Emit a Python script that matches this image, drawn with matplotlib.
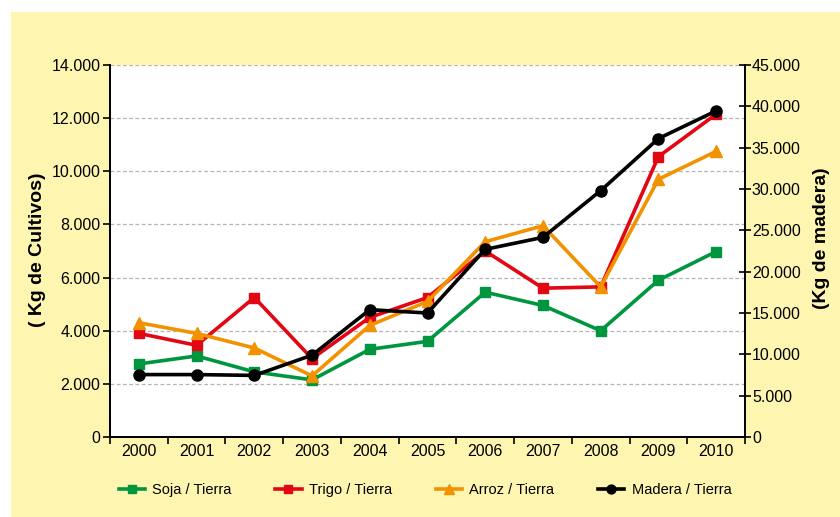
import matplotlib.pyplot as plt
from matplotlib.ticker import FuncFormatter, FixedLocator
from matplotlib.patches import Rectangle

# Data
years = ['2000', '2001', '2002', '2003', '2004', '2005',
         '2006', '2007', '2008', '2009', '2010']
soja = [2750, 3050, 2450, 2150, 3300, 3600, 5450, 4950, 4000, 5900, 6980]
trigo = [3900, 3450, 5250, 2950, 4500, 5250, 7000, 5600, 5650, 10550, 12150]
arroz = [4300, 3900, 3350, 2300, 4200, 5100, 7350, 7950, 5650, 9700, 10750]
madera = [7550, 7550, 7450, 9900, 15400, 15000, 22700, 24150, 29800, 36100, 39450]

plt.rcParams['font.family'] = ['Liberation Sans', 'DejaVu Sans']

yellow = '#FEF5B0'
green = '#00963F'
red = '#E30613'
orange = '#F39200'

fig = plt.figure(figsize=(8.4, 5.17), dpi=100)
fig.patch.set_facecolor('white')
bg = Rectangle((11/840, 0), 1, (517-12)/517, transform=fig.transFigure,
               facecolor=yellow, edgecolor='none', zorder=-10)
fig.add_artist(bg)

ax = fig.add_axes([110/840, 80/517, 635/840, 372/517])
ax.set_facecolor('white')
ax2 = ax.twinx()

x = list(range(len(years)))
lw = 2.6
l1, = ax.plot(x, soja, color=green, lw=lw, marker='s', ms=7, label='Soja / Tierra')
l2, = ax.plot(x, trigo, color=red, lw=lw, marker='s', ms=7, label='Trigo / Tierra')
l3, = ax.plot(x, arroz, color=orange, lw=lw, marker='^', ms=9, label='Arroz / Tierra')
l4, = ax2.plot(x, madera, color='black', lw=lw, marker='o', ms=8, label='Madera / Tierra')

ax.set_xlim(-0.5, 10.5)
ax.set_ylim(0, 14000)
ax2.set_ylim(0, 45000)
ax.set_yticks(range(0, 14001, 2000))
ax2.set_yticks(range(0, 45001, 5000))

fmt = FuncFormatter(lambda v, p: f'{int(v):,}'.replace(',', '.'))
ax.yaxis.set_major_formatter(fmt)
ax2.yaxis.set_major_formatter(fmt)

ax.set_xticks(x)
ax.set_xticklabels(years)
ax.xaxis.set_minor_locator(FixedLocator([i - 0.5 for i in range(len(years) + 1)]))
ax.tick_params(axis='x', which='major', length=0, labelsize=11.5, pad=5)
ax.tick_params(axis='x', which='minor', length=5, width=1.2, direction='out')
ax.tick_params(axis='y', length=5, width=1.2, direction='out', labelsize=11.5, pad=2)
ax2.tick_params(axis='y', length=8, width=1.2, direction='inout', labelsize=11.5, pad=1)

ax.grid(axis='y', linestyle=(0, (3, 2)), color='#B4B4B4', lw=0.9)
ax.set_axisbelow(True)

for a in (ax, ax2):
    a.spines['top'].set_visible(False)
    for s in ('left', 'right', 'bottom'):
        a.spines[s].set_linewidth(1.4)
ax.spines['right'].set_visible(False)

fig.text(38/840, 1 - 250/517, '( Kg de Cultivos)', rotation=90, ha='center', va='center',
         fontsize=14, fontweight='bold')
fig.text(822/840, 1 - 238/517, '(Kg de madera)', rotation=90, ha='center', va='center',
         fontsize=14, fontweight='bold')

fig.legend(handles=[l1, l2, l3, l4], loc='center', bbox_to_anchor=(425/840, 1 - 490/517),
           ncol=4, frameon=False, fontsize=10.5, handlelength=1.8, columnspacing=3.0,
           handletextpad=0.5, markerscale=0.8)

fig.savefig('out.png', dpi=100, facecolor=fig.get_facecolor())
